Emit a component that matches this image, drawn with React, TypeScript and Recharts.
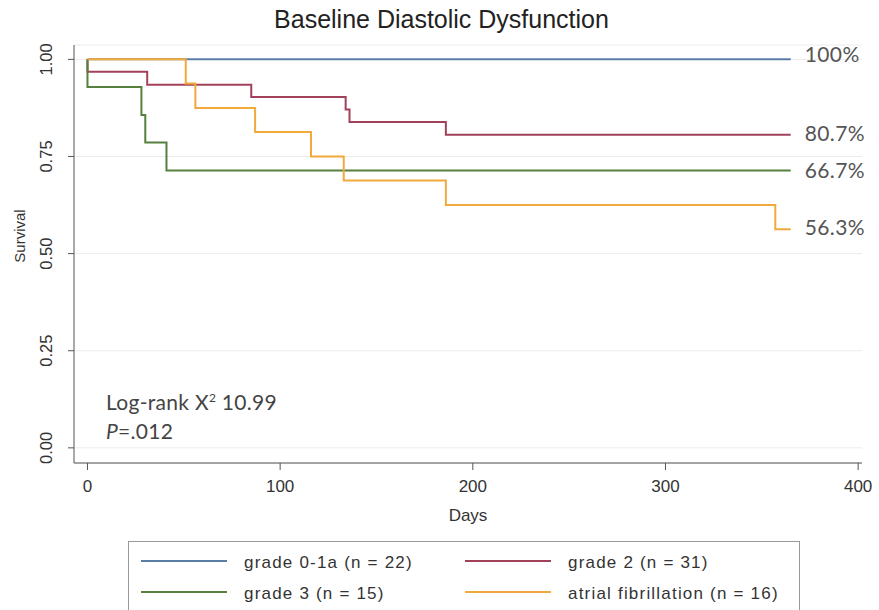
import React from "react";
import {
  LineChart,
  Line,
  XAxis,
  YAxis,
  CartesianGrid,
} from "recharts";

const groupNames = [
  "grade 0-1a (n = 22)",
  "grade 2 (n = 31)",
  "grade 3 (n = 15)",
  "atrial fibrillation (n = 16)",
];
const groupColors = ["#5b7ea6", "#a2425a", "#56803d", "#f2a93b"];
const endLabels = ["100%", "80.7%", "66.7%", "56.3%"];

// Kaplan-Meier steps
const grade01aDays = [0, 365];
const grade01aSurv = [1, 1];
const grade2Days = [0, 0, 31, 85, 134, 136, 186, 365];
const grade2Surv = [1, 0.968, 0.935, 0.903, 0.871, 0.839, 0.806, 0.806];
const grade3Days = [0, 0, 28, 30, 41, 365];
const grade3Surv = [1, 0.929, 0.857, 0.786, 0.714, 0.714];
const afibDays = [0, 51, 56, 87, 116, 133, 186, 357, 365];
const afibSurv = [1, 0.938, 0.875, 0.813, 0.75, 0.688, 0.625, 0.563, 0.563];

const xTicks = [0, 100, 200, 300, 400];
const yTicks = [0, 0.25, 0.5, 0.75, 1];

const toRows = (days: number[], surv: number[]) =>
  days.map((d, i) => ({ day: d, surv: surv[i] }));

const series = [
  toRows(grade01aDays, grade01aSurv),
  toRows(grade2Days, grade2Surv),
  toRows(grade3Days, grade3Surv),
  toRows(afibDays, afibSurv),
];

const axisFont = "'Liberation Sans', Arial, sans-serif";
const noteFont = "Lato, 'Open Sans', sans-serif";

const YTick = (props: any) => {
  const { y, payload } = props;
  const x0 = 52;
  return (
    <text
      x={x0}
      y={y}
      transform={`rotate(-90, ${x0}, ${y})`}
      textAnchor="middle"
      fontSize={16.5}
      fontFamily={axisFont}
      fill="#333"
    >
      {payload.value.toFixed(2)}
    </text>
  );
};

const SurvivalLabel = () => (
  <text
    x={25}
    y={236}
    transform="rotate(-90, 25, 236)"
    textAnchor="middle"
    fontSize={15}
    fontFamily={axisFont}
    fill="#333"
  >
    Survival
  </text>
);

const endLabel = (idx: number) => (props: any) => {
  const { x, y, index } = props;
  if (index !== series[idx].length - 1) return null;
  return (
    <text
      x={x + 14}
      y={y}
      dy={idx === 0 ? 3 : idx === 2 ? 8 : 6}
      fontSize={21}
      fontFamily={noteFont}
      fill="#555"
      letterSpacing={0.4}
    >
      {endLabels[idx]}
    </text>
  );
};

export default function App() {
  return (
    <div
      style={{
        position: "absolute",
        left: 0,
        top: 0,
        width: 879,
        height: 610,
        background: "#fff",
        overflow: "hidden",
      }}
    >
      <div
        style={{
          position: "absolute",
          top: 5,
          left: 2,
          width: 879,
          textAlign: "center",
          fontFamily: axisFont,
          fontSize: 25,
          color: "#222",
        }}
      >
        Baseline Diastolic Dysfunction
      </div>

      <LineChart
        width={879}
        height={540}
        margin={{ top: 45, right: 17, bottom: 17, left: 30 }}
      >
        <CartesianGrid horizontal vertical={false} stroke="#ececec" />
        <XAxis
          type="number"
          dataKey="day"
          domain={[-7, 402]}
          ticks={xTicks}
          allowDataOverflow
          height={60}
          tickSize={7}
          tickMargin={10}
          stroke="#555"
          tick={{ fontSize: 17, fontFamily: axisFont, fill: "#333" }}
          label={{
            value: "Days",
            position: "insideBottom",
            offset: 2,
            fontSize: 17,
            fontFamily: axisFont,
            fill: "#333",
          }}
        />
        <YAxis
          type="number"
          dataKey="surv"
          domain={[-0.039, 1.037]}
          ticks={yTicks}
          allowDataOverflow
          width={44}
          tickSize={6}
          stroke="#555"
          tick={<YTick />}
          label={<SurvivalLabel />}
        />
        {series.map((rows, i) => (
          <Line
            key={groupNames[i]}
            data={rows}
            dataKey="surv"
            name={groupNames[i]}
            type="stepAfter"
            stroke={groupColors[i]}
            strokeWidth={2}
            dot={false}
            activeDot={false}
            isAnimationActive={false}
            label={endLabel(i)}
          />
        ))}
      </LineChart>

      <div
        style={{
          position: "absolute",
          left: 106,
          top: 383,
          fontFamily: noteFont,
          fontSize: 21,
          color: "#444",
          lineHeight: "29px",
          letterSpacing: 0.3,
        }}
      >
        <div>
          Log-rank X<sup style={{ fontSize: 12 }}>2</sup> 10.99
        </div>
        <div>
          <i>P</i>=.012
        </div>
      </div>

      <div
        style={{
          position: "absolute",
          left: 128,
          top: 541,
          width: 672,
          height: 80,
          border: "1.5px solid #999",
          boxSizing: "border-box",
          fontFamily: axisFont,
          fontSize: 17,
          letterSpacing: 1.2,
          color: "#333",
        }}
      >
        {groupNames.map((name, i) => {
          const col = i % 2;
          const row = Math.floor(i / 2);
          return (
            <div
              key={name}
              style={{
                position: "absolute",
                left: col === 0 ? 12 : 336,
                top: 10 + row * 31,
                display: "flex",
                alignItems: "center",
                height: 22,
              }}
            >
              <span
                style={{
                  display: "inline-block",
                  width: 86,
                  height: 2,
                  background: groupColors[i],
                  marginRight: 17,
                  marginTop: -4,
                }}
              />
              <span>{name}</span>
            </div>
          );
        })}
      </div>
    </div>
  );
}
